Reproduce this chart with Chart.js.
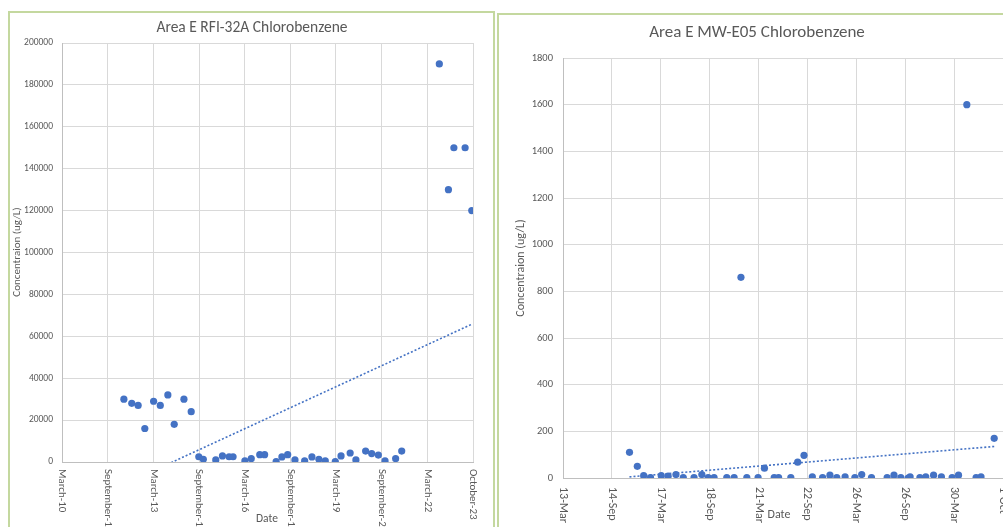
<!DOCTYPE html>
<html><head><meta charset="utf-8">
<script src="https://cdn.jsdelivr.net/npm/chart.js@4.4.0/dist/chart.umd.min.js"></script>
<style>
html,body{margin:0;padding:0;background:#fff;overflow:hidden;width:1003px;height:527px;position:relative;}
.box{position:absolute;border:2px solid #c4d89f;}
#b1{left:8px;top:11px;width:483px;height:560px;}
#b2{left:497px;top:13px;width:600px;height:560px;}
.wrap{position:absolute;top:0;}
#w1{left:0;width:495px;height:560px;}
#w2{left:497px;width:560px;height:560px;}
</style></head><body>
<div class="box" id="b1"></div>
<div class="box" id="b2"></div>
<div class="wrap" id="w1"><canvas id="c1" width="495" height="560"></canvas></div>
<div class="wrap" id="w2"><canvas id="c2" width="560" height="560"></canvas></div>
<script>
// ---------- Chart 1: Area E RFI-32A Chlorobenzene (x = decimal year) ----------
const rfiDates = [2012.21,2012.47,2012.68,2012.90,2013.19,2013.41,2013.66,2013.87,2014.19,2014.43,
  2014.68,2014.83,2015.24,2015.46,2015.68,2015.81,2016.20,2016.41,2016.69,2016.85,
  2017.23,2017.42,2017.61,2017.85,2018.17,2018.41,2018.64,2018.85,2019.18,2019.37,
  2019.67,2019.86,2020.18,2020.38,2020.60,2020.82,2021.17,2021.37,2022.61,2022.91,
  2023.09,2023.46,2023.68];
const rfiValues = [30000,28000,27000,16000,29000,27000,32000,18000,30000,24000,
  2500,1300,1000,2900,2500,2500,500,1600,3500,3500,
  200,2400,3500,1000,500,2400,1300,500,200,2900,
  4300,1000,5200,4000,3300,500,1600,5200,190000,130000,
  150000,150000,120000];
const rfiTickLabels = ['March-10','September-11','March-13','September-14','March-16','September-17','March-19','September-20','March-22','October-23'];
const rfiAxisStart = 2010.17, rfiAxisStep = 1.5056;

// ---------- Chart 2: Area E MW-E05 Chlorobenzene (x = position in axis intervals) ----------
const mwDates = [1.36,1.52,1.65,1.79,2.01,2.15,2.31,2.46,2.68,2.84,
  2.97,3.09,3.35,3.50,3.64,3.76,3.99,4.12,4.32,4.41,
  4.66,4.80,4.93,5.10,5.31,5.46,5.60,5.77,5.97,6.11,
  6.31,6.63,6.77,6.91,7.06,7.10,7.30,7.42,7.58,7.74,
  7.96,8.09,8.26,8.45,8.55,8.82];
const mwValues = [110,50,10,2,10,8,15,2,2,15,
  2,2,2,2,860,2,2,42,2,2,
  2,68,97,5,2,12,2,5,2,15,
  2,2,12,2,0,5,2,5,12,5,
  2,12,1600,2,5,170];
const mwTickLabels = ['13-Mar','14-Sep','17-Mar','18-Sep','21-Mar','22-Sep','26-Mar','26-Sep','30-Mar','1-Oct'];

const FONT = 'Calibri, Carlito, Lato, sans-serif';
const TXT = '#595959', BLUE = '#4472c4', GRID = '#d9d9d9';

function trend(xs, ys){
  const n = xs.length; let sx=0, sy=0, sxx=0, sxy=0;
  for (let i=0;i<n;i++){ sx+=xs[i]; sy+=ys[i]; sxx+=xs[i]*xs[i]; sxy+=xs[i]*ys[i]; }
  const b = (n*sxy - sx*sy)/(n*sxx - sx*sx), a = (sy - b*sx)/n;
  const x0 = Math.min(...xs), x1 = Math.max(...xs);
  return [{x:x0, y:a+b*x0}, {x:x1, y:a+b*x1}];
}

const textPlugin = {
  id: 'texts',
  afterDraw(chart, args, o){
    const ctx = chart.ctx, xs = chart.scales.x, y0 = chart.chartArea.bottom;
    ctx.save();
    ctx.fillStyle = TXT;
    ctx.font = o.titleSize + 'px ' + FONT; ctx.textAlign = 'center'; ctx.textBaseline = 'middle';
    ctx.fillText(o.title, o.titleX, o.titleY);
    ctx.font = o.tickSize + 'px ' + FONT; ctx.textAlign = 'left';
    xs.ticks.forEach((t, i) => {
      if (!o.labels[i]) return;
      ctx.save();
      ctx.translate(xs.getPixelForValue(t.value), y0 + o.gap);
      ctx.rotate(Math.PI/2);
      ctx.fillText(o.labels[i], 0, 0);
      ctx.restore();
    });
    ctx.font = o.axisSize + 'px ' + FONT; ctx.textAlign = 'center';
    ctx.fillText('Date', o.dateX, o.dateY);
    ctx.font = o.yTitleSize + 'px ' + FONT;
    ctx.save(); ctx.translate(o.yTitleX, o.yTitleY); ctx.rotate(-Math.PI/2);
    ctx.fillText('Concentraion (ug/L)', 0, 0); ctx.restore();
    ctx.restore();
  }
};

function makeChart(id, xs, ys, cfg){
  return new Chart(document.getElementById(id), {
    type: 'scatter',
    data: { datasets: [
      { data: xs.map((x,i)=>({x, y: ys[i]})), backgroundColor: BLUE, borderColor: BLUE,
        pointRadius: 3.6, borderWidth: 0, order: 1 },
      { type: 'line', data: trend(xs, ys), borderColor: BLUE, borderWidth: 1.6,
        borderDash: [2, 2], pointRadius: 0, fill: false, order: 2 }
    ]},
    options: {
      responsive: false, animation: false,
      layout: { padding: cfg.padding },
      plugins: { legend: {display:false}, tooltip: {enabled:false}, title: {display:false},
        texts: cfg.texts },
      scales: {
        x: { type: 'linear', min: cfg.xMin, max: cfg.xMax,
          afterBuildTicks: s => { s.ticks = cfg.texts.labels.map((_, i) => ({ value: cfg.xMin + i*cfg.xStep })); },
          afterFit: s => { s.height = 1; },
          ticks: { display: false },
          grid: { color: GRID, drawTicks: false },
          border: { color: '#bfbfbf' } },
        y: { min: 0, max: cfg.yMax,
          afterFit: s => { s.width = cfg.yWidth; },
          ticks: { stepSize: cfg.yStep, color: TXT, padding: cfg.yPad,
            font: { family: FONT, size: cfg.yTickSize },
            callback: v => String(v) },
          grid: { color: GRID, drawTicks: false },
          border: { color: '#bfbfbf' } }
      }
    },
    plugins: [textPlugin]
  });
}

makeChart('c1', rfiDates, rfiValues, {
  padding: { top: 43, right: 22, bottom: 97, left: 0 },
  xMin: rfiAxisStart, xMax: rfiAxisStart + 9*rfiAxisStep, xStep: rfiAxisStep,
  yMax: 200000, yStep: 20000, yWidth: 62, yPad: 9, yTickSize: 9.5,
  texts: { title: 'Area E RFI-32A Chlorobenzene', titleSize: 15.5, titleX: 252, titleY: 28,
    labels: rfiTickLabels, tickSize: 11, gap: 7, axisSize: 11.5, dateX: 267, dateY: 519,
    yTitleSize: 11, yTitleX: 17, yTitleY: 252 }
});

makeChart('c2', mwDates, mwValues, {
  padding: { top: 58, right: 54, bottom: 81, left: 0 },
  xMin: 0, xMax: 9, xStep: 1,
  yMax: 1800, yStep: 200, yWidth: 66, yPad: 10, yTickSize: 10.5,
  texts: { title: 'Area E MW-E05 Chlorobenzene', titleSize: 17, titleX: 260, titleY: 33,
    labels: mwTickLabels, tickSize: 12, gap: 9, axisSize: 12, dateX: 282, dateY: 515,
    yTitleSize: 12, yTitleX: 24, yTitleY: 268 }
});
</script>
</body></html>
